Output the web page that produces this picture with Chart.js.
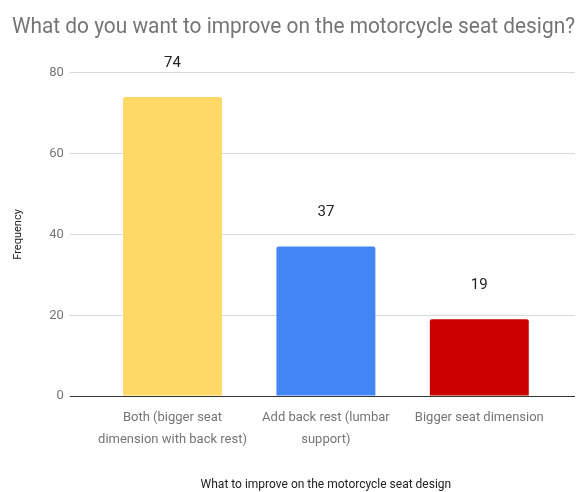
<!DOCTYPE html>
<html>
<head>
<meta charset="utf-8">
<script src="https://cdn.jsdelivr.net/npm/chart.js@4/dist/chart.umd.min.js"></script>
<style>
  html, body { margin: 0; padding: 0; background: #fff; }
  #wrap { width: 579px; height: 492px; }
</style>
</head>
<body>
<div id="wrap"><canvas id="myChart" width="579" height="492"></canvas></div>
<script>
var categories = [
  ['Both (bigger seat', 'dimension with back rest)'],
  ['Add back rest (lumbar', 'support)'],
  'Bigger seat dimension'
];
var frequency = [74, 37, 19];
var barColors = ['#ffd966', '#4285f4', '#cc0000'];
var yTicks = [0, 20, 40, 60, 80];

// value labels above each bar
var valueLabels = {
  id: 'valueLabels',
  afterDatasetsDraw: function (chart) {
    var c = chart.ctx;
    var meta = chart.getDatasetMeta(0);
    c.save();
    c.font = '15px Roboto';
    c.fillStyle = '#222222';
    c.textAlign = 'center';
    c.textBaseline = 'middle';
    meta.data.forEach(function (bar, i) {
      c.fillText(String(frequency[i]), bar.x, bar.y - 34);
    });
    c.restore();
  }
};

var gridColor = function (ctx) {
  return ctx.tick && ctx.tick.value === 0 ? '#333333' : '#d9d9d9';
};

var ctx = document.getElementById('myChart').getContext('2d');
var myChart = new Chart(ctx, {
  type: 'bar',
  data: {
    labels: categories,
    datasets: [{
      label: 'Frequency',
      data: frequency,
      backgroundColor: barColors,
      borderWidth: 0,
      borderRadius: 2,
      barPercentage: 0.645,
      categoryPercentage: 1
    }]
  },
  plugins: [valueLabels],
  options: {
    responsive: false,
    animation: false,
    layout: { padding: { left: 12, right: 4, top: 0, bottom: 0 } },
    plugins: {
      legend: { display: false },
      tooltip: { enabled: false },
      title: {
        display: true,
        text: 'What do you want to improve on the motorcycle seat design?',
        color: '#757575',
        font: { family: 'Roboto', size: 21.5, weight: 'normal' },
        padding: { top: 15, bottom: 32 }
      }
    },
    scales: {
      x: {
        grid: { display: false },
        border: { display: false },
        ticks: {
          color: '#757575',
          font: { family: 'Roboto', size: 13, lineHeight: 1.75 },
          maxRotation: 0,
          autoSkip: false,
          padding: 2
        },
        title: {
          display: true,
          text: 'What to improve on the motorcycle seat design',
          color: '#222222',
          font: { family: 'Roboto', size: 12 },
          padding: { top: 24, bottom: 0 }
        }
      },
      y: {
        min: 0,
        max: 80,
        afterBuildTicks: function (axis) {
          axis.ticks = yTicks.map(function (v) { return { value: v }; });
        },
        grid: { color: gridColor, tickLength: 26, lineWidth: 1 },
        border: { display: false },
        ticks: {
          color: '#757575',
          font: { family: 'Roboto', size: 13 },
          padding: 6
        },
        title: {
          display: true,
          text: 'Frequency',
          color: '#222222',
          font: { family: 'Roboto', size: 11 },
          padding: { top: 0, bottom: 18 }
        }
      },
      yRight: {
        position: 'right',
        min: 0,
        max: 80,
        afterBuildTicks: function (axis) {
          axis.ticks = yTicks.map(function (v) { return { value: v }; });
        },
        grid: { color: gridColor, tickLength: 19, drawOnChartArea: false },
        border: { display: false },
        ticks: { display: false }
      }
    }
  }
});
</script>
</body>
</html>
